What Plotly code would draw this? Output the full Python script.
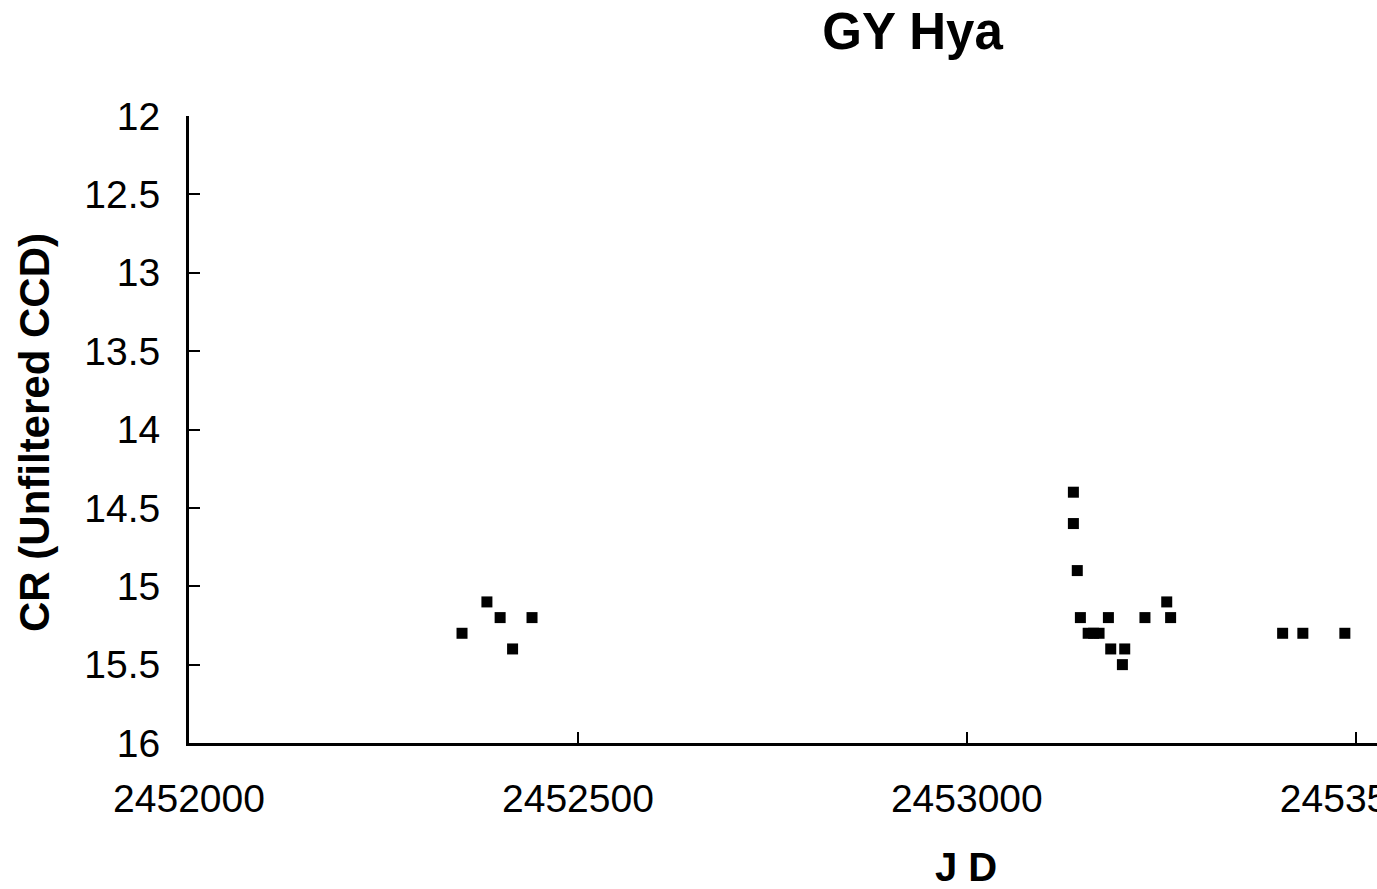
import plotly.graph_objects as go

# Julian Date observations and CR (unfiltered CCD) magnitudes
jd = [2452351, 2452383, 2452400, 2452416, 2452441,
      2453137, 2453137, 2453142, 2453146, 2453156, 2453163, 2453170,
      2453182, 2453185, 2453200, 2453203, 2453229, 2453257, 2453262,
      2453406, 2453432, 2453486]
mag = [15.3, 15.1, 15.2, 15.4, 15.2,
       14.4, 14.6, 14.9, 15.2, 15.3, 15.3, 15.3,
       15.2, 15.4, 15.5, 15.4, 15.2, 15.1, 15.2,
       15.3, 15.3, 15.3]

x_ticks = [2452000, 2452500, 2453000, 2453500]
y_ticks = [12, 12.5, 13, 13.5, 14, 14.5, 15, 15.5, 16]

W, H = 1377, 889
L, R, T, B = 189, 0, 116, 146
FONT = "Liberation Sans, Arial, sans-serif"

fig = go.Figure()
fig.add_trace(go.Scatter(
    x=jd, y=mag, mode="markers",
    marker=dict(symbol="square", size=11, color="black", line=dict(width=0)),
    showlegend=False,
))

pw, ph = W - L - R, H - T - B


def px_to_paper(px, py):
    return (px - L) / pw, ((H - py) - B) / ph


jd_x, jd_y = px_to_paper(966, 867)
yt_x, yt_y = px_to_paper(35, 433)

fig.update_layout(
    width=W, height=H,
    margin=dict(l=L, r=R, t=T, b=B, autoexpand=False),
    paper_bgcolor="white", plot_bgcolor="white",
    font=dict(family=FONT, color="black", size=39),
    title=dict(text="<b>GY Hya</b>", x=912.5 / W, xref="container", xanchor="center",
               y=1 - 31 / H, yref="container", yanchor="middle",
               font=dict(size=51, family=FONT, color="black")),
    xaxis=dict(
        range=[2452000, 2452000 + (W - 189.2) / 777.7 * 1000],
        tickvals=x_ticks, ticktext=[str(v) for v in x_ticks],
        ticks="inside", ticklen=11, tickwidth=2, tickcolor="black",
        showline=True, linecolor="black", linewidth=3,
        showgrid=False, zeroline=False, automargin=False,
        ticklabeloverflow="allow", ticklabelstandoff=19,
        tickfont=dict(size=39, family=FONT, color="black"),
    ),
    yaxis=dict(
        range=[16, 12],
        tickvals=y_ticks, ticktext=[f"{v:g}" for v in y_ticks],
        ticks="inside", ticklen=11, tickwidth=2, tickcolor="black",
        showline=True, linecolor="black", linewidth=3,
        showgrid=False, zeroline=False, automargin=False,
        ticklabeloverflow="allow", ticklabelstandoff=18,
        tickfont=dict(size=39, family=FONT, color="black"),
    ),
    annotations=[
        dict(text="<b>J D</b>", x=jd_x, y=jd_y, xref="paper", yref="paper",
             showarrow=False, font=dict(size=40, family=FONT, color="black"),
             xanchor="center", yanchor="middle"),
        dict(text="<b>CR (Unfiltered CCD)</b>", x=yt_x, y=yt_y, xref="paper", yref="paper",
             textangle=-90, showarrow=False,
             font=dict(size=42, family=FONT, color="black"),
             xanchor="center", yanchor="middle"),
    ],
)

fig.write_html("out.html")
